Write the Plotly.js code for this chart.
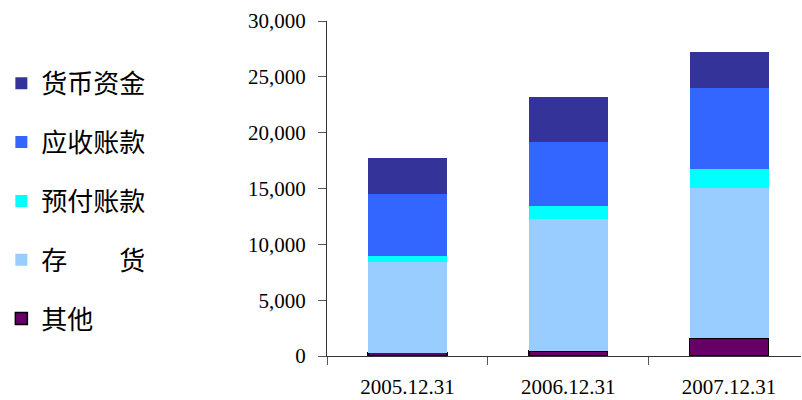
<!DOCTYPE html>
<html>
<head>
<meta charset="utf-8">
<script src="https://cdn.plot.ly/plotly-3.0.1.min.js"></script>
<style>html,body{margin:0;padding:0;background:#fff;}#chart{width:802px;height:400px;}</style>
</head>
<body>
<div id="chart"></div>
<script>
const categories = ["2005.12.31", "2006.12.31", "2007.12.31"];
const seriesNames = ["其他", "存\u3000\u3000货", "预付账款", "应收账款", "货币资金"];
const other      = [300, 470, 1580];
const inventory  = [8130, 11780, 13470];
const prepaid    = [540, 1190, 1700];
const receivable = [5550, 5730, 7250];
const cash       = [3220, 4000, 3220];
const seriesValues = [other, inventory, prepaid, receivable, cash];
const colors = ["#660066", "#99CCFF", "#00FFFF", "#3366FF", "#333399"];
const yTicks = [0, 5000, 10000, 15000, 20000, 25000, 30000];

const traces = seriesNames.map((name, i) => ({
  type: "bar",
  name: name,
  x: categories,
  y: seriesValues[i],
  legendgroup: "g" + i,
  legendrank: 1000 - i,
  marker: {
    color: colors[i],
    line: { color: i === 0 ? "#000000" : colors[i], width: i === 0 ? 1.5 : 0 }
  },
  hoverinfo: "x+y+name"
}));

const layout = {
  width: 802, height: 400,
  margin: { l: 325, r: 1, t: 21, b: 44 },
  paper_bgcolor: "#ffffff", plot_bgcolor: "#ffffff",
  barmode: "stack",
  bargap: 0.51,
  font: { family: "Liberation Serif, Times New Roman, serif", size: 21, color: "#000" },
  xaxis: {
    type: "category",
    range: [-0.5, 2.447],
    showline: true, linecolor: "#333", linewidth: 1,
    ticks: "outside", tickson: "boundaries", ticklen: 8, tickcolor: "#555",
    ticklabelstandoff: 12,
    showgrid: false, zeroline: false,
    tickfont: { family: "Liberation Serif, Times New Roman, serif", size: 21, color: "#000" }
  },
  yaxis: {
    range: [0, 30000],
    tickvals: yTicks,
    tickformat: ",d",
    showline: true, linecolor: "#333", linewidth: 1,
    ticks: "outside", ticklen: 8, tickcolor: "#555",
    ticklabelstandoff: 8,
    showgrid: false, zeroline: false,
    tickfont: { family: "Liberation Serif, Times New Roman, serif", size: 21, color: "#000" }
  },
  showlegend: true,
  legend: {
    x: -0.687, xanchor: "left",
    y: 0.463, yanchor: "middle",
    traceorder: "grouped",
    tracegroupgap: 22,
    bgcolor: "rgba(0,0,0,0)",
    font: { family: "Noto Sans CJK SC, sans-serif", size: 26, color: "#000" }
  }
};

Plotly.newPlot("chart", traces, layout, { displayModeBar: false, staticPlot: true });
</script>
</body>
</html>
